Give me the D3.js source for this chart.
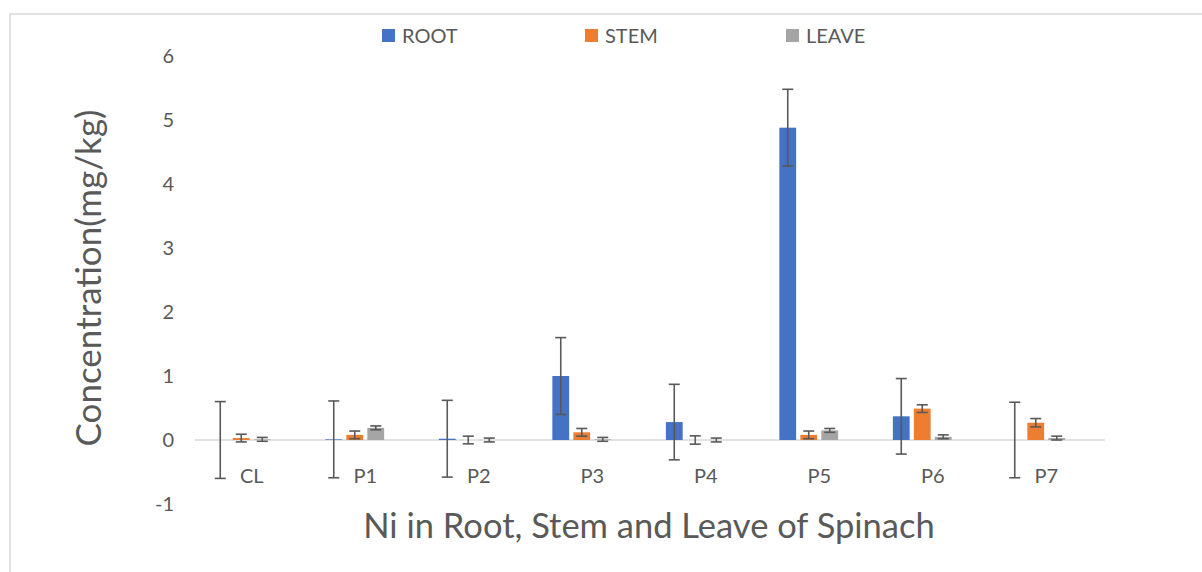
<!DOCTYPE html>
<html>
<head>
<meta charset="utf-8">
<script src="https://cdn.jsdelivr.net/npm/d3@7"></script>
<style>
  html, body { margin: 0; padding: 0; background: #fff; }
  svg { display: block; font-family: Lato, "Open Sans", sans-serif; }
</style>
</head>
<body>
<svg id="chart" width="1202" height="572"></svg>
<script>
// ---- data ----
const categories = ["CL", "P1", "P2", "P3", "P4", "P5", "P6", "P7"];
const seriesNames = ["ROOT", "STEM", "LEAVE"];
const rootValues  = [0.00, 0.01, 0.02, 1.00, 0.28, 4.88, 0.37, 0.00];
const rootErrors  = [0.60, 0.60, 0.60, 0.60, 0.59, 0.60, 0.59, 0.59];
const stemValues  = [0.03, 0.08, 0.00, 0.12, 0.00, 0.08, 0.49, 0.27];
const stemErrors  = [0.06, 0.06, 0.06, 0.06, 0.065, 0.06, 0.06, 0.065];
const leaveValues = [0.01, 0.19, 0.00, 0.01, 0.00, 0.15, 0.05, 0.03];
const leaveErrors = [0.03, 0.03, 0.03, 0.03, 0.03, 0.03, 0.03, 0.03];
const yTicks = [-1, 0, 1, 2, 3, 4, 5, 6];
const colors = ["#4472C4", "#ED7D31", "#A5A5A5"];
const xTitle = "Ni in Root, Stem and Leave of Spinach";
const yTitle = "Concentration(mg/kg)";

const series = seriesNames.map((name, s) => ({
  name,
  color: colors[s],
  values: [rootValues, stemValues, leaveValues][s],
  errors: [rootErrors, stemErrors, leaveErrors][s]
}));

const svg = d3.select("#chart");
const textColor = "#595959";

// outer frame (chart area border)
svg.append("rect")
  .attr("x", 10).attr("y", 14)
  .attr("width", 1220).attr("height", 600)
  .attr("fill", "none").attr("stroke", "#D9D9D9").attr("stroke-width", 1.5);

const y = d3.scaleLinear().domain([-1, 6]).range([504, 56]);
const x0 = d3.scaleBand().domain(categories).range([195, 1103]);
const bw = x0.bandwidth();
// four slots per group (a fourth, empty slot as in the original layout)
const x1 = d3.scaleBand()
  .domain([...seriesNames, "_"])
  .range([bw / 2 - 42, bw / 2 + 42])
  .paddingInner(0.2).paddingOuter(0.1);

// y tick labels
const yAxis = svg.append("g").attr("transform", "translate(174,0)")
  .call(d3.axisLeft(y).tickValues(yTicks).tickSize(0).tickPadding(0).tickFormat(d => String(d)));
yAxis.select(".domain").remove();
yAxis.selectAll("text").attr("fill", textColor).style("font-size", "20px")
  .style("font-family", "Lato, 'Open Sans', sans-serif");

// zero line
svg.append("line")
  .attr("x1", 195).attr("x2", 1105)
  .attr("y1", y(0)).attr("y2", y(0))
  .attr("stroke", "#D9D9D9").attr("stroke-width", 1.5);

// bars
const groups = svg.append("g").selectAll("g")
  .data(series).join("g").attr("fill", d => d.color);

groups.selectAll("rect")
  .data(d => d.values.map((v, i) => ({ v, i, name: d.name })))
  .join("rect")
  .attr("x", d => x0(categories[d.i]) + x1(d.name))
  .attr("width", x1.bandwidth())
  .attr("y", d => y(Math.max(0, d.v)))
  .attr("height", d => Math.abs(y(d.v) - y(0)));

// error bars
const capW = 11;
const eb = svg.append("g").attr("stroke", "#595959").attr("stroke-width", 1.6);
series.forEach(s => {
  s.values.forEach((v, i) => {
    const cx = x0(categories[i]) + x1(s.name) + x1.bandwidth() / 2;
    const top = y(v + s.errors[i]), bot = y(v - s.errors[i]);
    eb.append("line").attr("x1", cx).attr("x2", cx).attr("y1", top).attr("y2", bot);
    eb.append("line").attr("x1", cx - capW / 2).attr("x2", cx + capW / 2).attr("y1", top).attr("y2", top);
    eb.append("line").attr("x1", cx - capW / 2).attr("x2", cx + capW / 2).attr("y1", bot).attr("y2", bot);
  });
});

// category labels
svg.append("g").selectAll("text")
  .data(categories).join("text")
  .attr("x", d => x0(d) + bw / 2)
  .attr("y", 483)
  .attr("text-anchor", "middle")
  .attr("fill", textColor)
  .style("font-size", "20px")
  .text(d => d);

// axis titles
svg.append("text")
  .attr("x", 649).attr("y", 538)
  .attr("text-anchor", "middle")
  .attr("fill", textColor)
  .style("font-size", "34.5px")
  .text(xTitle);

svg.append("text")
  .attr("transform", "translate(101,278) rotate(-90)")
  .attr("text-anchor", "middle")
  .attr("fill", textColor)
  .style("font-size", "35px")
  .text(yTitle);

// legend
const legendX = [382, 585, 786];
const legend = svg.append("g").selectAll("g")
  .data(series).join("g")
  .attr("transform", (d, i) => `translate(${legendX[i]},29)`);
legend.append("rect").attr("width", 13).attr("height", 13).attr("fill", d => d.color);
legend.append("text")
  .attr("x", 20).attr("y", 14)
  .attr("fill", textColor)
  .style("font-size", "20px")
  .text(d => d.name);
</script>
</body>
</html>
